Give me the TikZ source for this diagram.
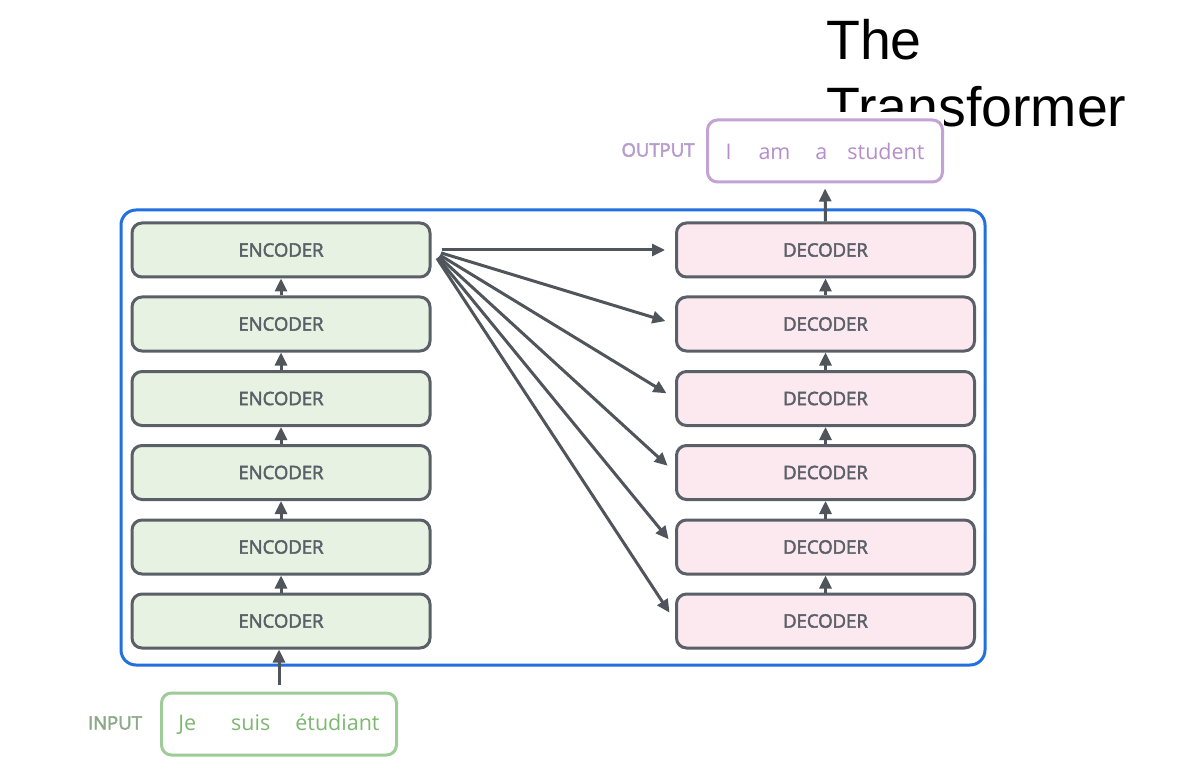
\documentclass[tikz,border=0pt]{standalone}
\usepackage{fontspec}
\setmainfont{Open Sans}
\newfontfamily\semib{Open Sans}[FakeBold=2.5]
\newfontfamily\titlefont{Liberation Sans}
\usetikzlibrary{arrows.meta}
\definecolor{encfill}{HTML}{E7F2E2}
\definecolor{decfill}{HTML}{FCE8EF}
\definecolor{boxline}{HTML}{5B6068}
\definecolor{arrowc}{HTML}{50555C}
\definecolor{frameblue}{HTML}{2270E0}
\definecolor{outc}{HTML}{B58ECB}
\definecolor{outline}{HTML}{C3A3D4}
\definecolor{inc}{HTML}{7DB870}
\definecolor{inline}{HTML}{9FCB98}
\definecolor{inlabel}{HTML}{8EA88A}
\definecolor{outlabel}{HTML}{B79BCB}
\begin{document}
\begin{tikzpicture}[x=1pt,y=-1pt,
 layer/.style={draw=boxline, line width=3pt, rounded corners=10pt, minimum width=298pt, minimum height=54pt, inner sep=0pt, text=boxline, font=\semib\fontsize{18.5}{20}\selectfont},
 encbox/.style={layer, fill=encfill},
 decbox/.style={layer, fill=decfill},
 conn/.style={draw=arrowc, line width=3pt, -{Triangle[length=13pt,width=12pt]}},
 wordbox/.style={line width=3pt, rounded corners=10pt, minimum width=235pt, minimum height=62pt, inner sep=0pt, font=\fontsize{21.5}{24}\selectfont},
 sidelabel/.style={font=\semib\fontsize{18.5}{20}\selectfont, inner sep=0pt},
 titletext/.style={anchor=base west, inner sep=0pt, font=\titlefont\fontsize{55.5}{66}\selectfont}
]
\useasboundingbox (0,0) rectangle (1178,767);
\fill[white] (0,0) rectangle (1178,767);

% title
\node[titletext] (t1) at (826,60) {The};
\node[titletext] (t2) at (826,127) {Transformer};
\fill[white] (790,112) rectangle (944,145);

% frame
\node[draw=frameblue, line width=3pt, rounded corners=15pt, minimum width=864pt, minimum height=455pt, inner sep=0pt] (frame) at (553,437.5) {};

% encoders and decoders
\foreach \i/\y in {1/621,2/547,3/472.5,4/398.5,5/324,6/250}{
  \node[encbox] (enc\i) at (281,\y) {ENCODER};
  \node[decbox] (dec\i) at (825.5,\y) {DECODER};
}
\foreach \i/\j in {1/2,2/3,3/4,4/5,5/6}{
  \draw[conn] (enc\i.north) -- (enc\j.south);
  \draw[conn] (dec\i.north) -- (dec\j.south);
}
\foreach \i in {1,...,6}{
  \draw[conn, shorten <=10pt, shorten >=10pt] (enc6.east) -- (dec\i.west);
}

% output
\node[wordbox, draw=outline, text=outc] (out) at (825,151) {I\hspace{27pt}am\hspace{25pt}a\hspace{20pt}student};
\node[sidelabel, text=outlabel] (outlab) at (658,150) {OUTPUT};
\draw[conn, shorten >=5pt] (dec6.north) -- (out.south);

% input
\node[wordbox, draw=inline, text=inc] (in) at (279,724) {Je\hspace{35pt}suis\hspace{25pt}étudiant};
\node[sidelabel, text=inlabel] (inlab) at (115,723) {INPUT};
\draw[conn, shorten <=7pt] (in.north) -- (in.north |- enc1.south);
\end{tikzpicture}
\end{document}
